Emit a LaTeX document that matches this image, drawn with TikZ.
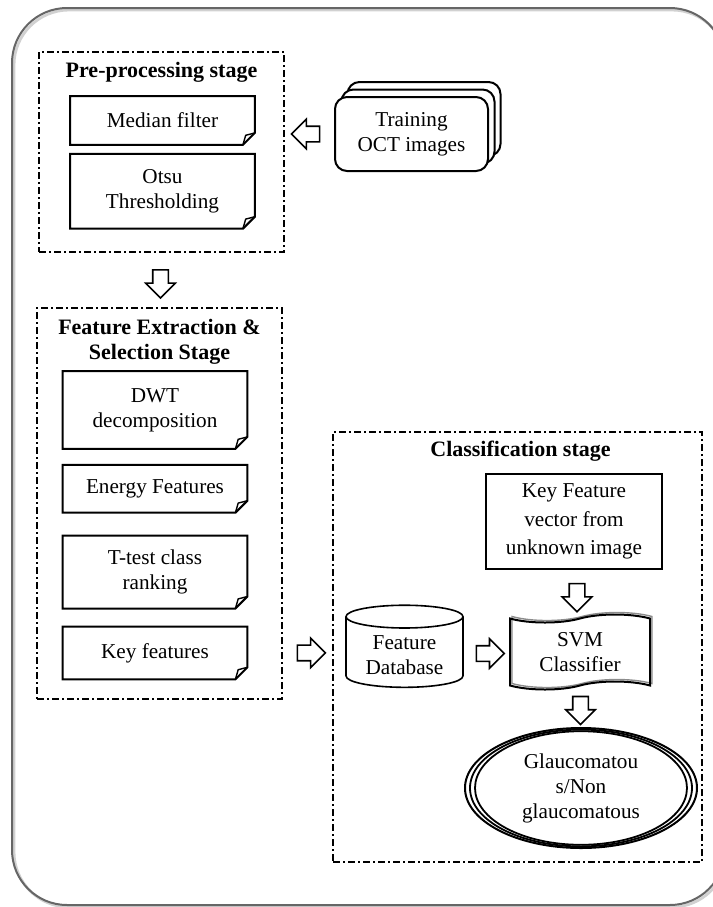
\documentclass[tikz,border=0pt]{standalone}
\usepackage{fontspec}
\setmainfont{Liberation Serif}
\usetikzlibrary{positioning,calc,shapes.geometric,shapes.symbols,shapes.arrows}
\tikzset{
    >=stealth,
    x=0.5pt, y=-0.5pt,
    font=\fontsize{10.6}{12.5}\selectfont,
    stage box/.style={draw, line width=0.9pt, dash pattern=on 3.5pt off 1.5pt on 1pt off 1.5pt},
    stage title/.style={font=\bfseries\fontsize{11}{12.5}\selectfont, align=center, inner sep=0pt},
    doc step/.style={minimum width=92pt, align=center, inner sep=2pt},
    train card/.style={draw, fill=white, rounded corners=6pt, line width=1pt, minimum width=76.5pt, minimum height=37pt, align=center},
    block arrow/.style={single arrow, draw, line width=0.8pt, fill=white, inner sep=3.5pt, minimum height=14pt, single arrow head extend=3.5pt},
    svm tape/.style={tape, minimum width=70pt, minimum height=37.5pt, tape bend height=4pt, align=center}
}

\begin{document}
\begin{tikzpicture}
    \useasboundingbox (0,0) rectangle (713,907);
    % outer frame
    \draw[black!18, line width=1.4pt, rounded corners=27.5pt] (14,10) rectangle (727,907);
    \draw[black!60, line width=1pt, rounded corners=27.5pt] (12,8) rectangle (725,905);

    % pre-processing
    \node[stage box, minimum width=122.5pt, minimum height=100pt] (pre) at (161.5,152) {};
    \node[stage title] (preT) at ([yshift=-10.5pt]pre.north) {Pre-processing stage};
    \node[doc step, minimum height=24pt, below=22.5pt of pre.north, xshift=0.5pt] (med) {Median filter};
    \node[doc step, minimum height=37pt, below=4.5pt of med] (otsu) {Otsu\\Thresholding};

    \node[train card] (trainC) at (424,119) {};
    \node[train card] (trainB) at (418,126.5) {};
    \node[train card] (train) at (411.5,134) {Training\\OCT images};

    % feature extraction
    \node[stage box, minimum width=122.5pt, minimum height=195.5pt] (fe) at (159.5,503.5) {};
    \node[stage title] (feT) at ([yshift=-17.25pt]fe.north) {Feature Extraction \&\\Selection Stage};
    \node[doc step, minimum height=38.5pt, below=32pt of fe.north, xshift=-2.25pt] (dwt) {DWT\\decomposition};
    \node[doc step, minimum height=23.5pt, below=8pt of dwt] (energy) {Energy Features};
    \node[doc step, minimum height=36pt, below=11.5pt of energy] (ttest) {T-test class\\ranking};
    \node[doc step, minimum height=26pt, below=9pt of ttest] (keyf) {Key features};

    % classification
    \node[stage box, minimum width=184.5pt, minimum height=215pt] (cls) at (517.5,647) {};
    \node[stage title] (clsT) at ([xshift=1.5pt,yshift=-10pt]cls.north) {Classification stage};
    \node[draw, line width=0.8pt, minimum width=88pt, minimum height=47.5pt, align=center,
          font=\fontsize{10.6}{14.2}\selectfont] (kfv) at (574,521.5) {Key Feature\\vector from\\unknown image};
    \node[cylinder, shape border rotate=90, draw, line width=0.8pt, aspect=0.25,
          minimum width=58.5pt, minimum height=35.5pt, align=center] (db) at (404.5,655) {Feature\\Database};
    \node[svm tape, draw=black!45, line width=0.7pt] (svmS) at (582,650) {};
    \node[svm tape, draw, line width=1pt] (svm) at (580,652) {SVM\\Classifier};
    \node[ellipse, draw, line width=1pt, minimum width=116pt, minimum height=60pt, inner sep=0pt, align=center] (res) at (581,788) {Glaucomatou\\s/Non\\glaucomatous};
    \draw[line width=0.9pt] (res.center) ellipse [x radius=55.5pt, y radius=29.2pt];
    \draw[line width=0.9pt] (res.center) ellipse [x radius=53pt, y radius=28.4pt];

    % folded corners
    \foreach \d in {med,otsu,dwt,energy,ttest,keyf}{
        \draw[line width=1pt] (\d.north west) -- (\d.north east) -- ([yshift=6pt]\d.south east)
            -- ([xshift=-6pt]\d.south east) -- (\d.south west) -- cycle;
        \draw[line width=0.7pt] ([xshift=-6pt]\d.south east) -- ([xshift=-4.6pt,yshift=4.8pt]\d.south east)
            -- ([yshift=6pt]\d.south east);
    }

    % block arrows
    \node[block arrow, shape border rotate=180] (a1) at ($(pre.east |- train.west)!0.5!(train.west)$) {};
    \node[block arrow, shape border rotate=270] (a2) at ($(pre.south)!0.5!(fe.north)$) {};
    \node[block arrow] (a3) at ($(fe.east |- keyf)!0.5!(cls.west |- keyf)$) {};
    \node[block arrow, shape border rotate=270] (a4) at ($(kfv.south)!0.5!(svm.north)$) {};
    \node[block arrow] (a5) at ($(db.east)!0.5!(svm.west)$) {};
    \node[block arrow, shape border rotate=270] (a6) at ($(svm.south)!0.5!(res.north)$) {};
\end{tikzpicture}
\end{document}
